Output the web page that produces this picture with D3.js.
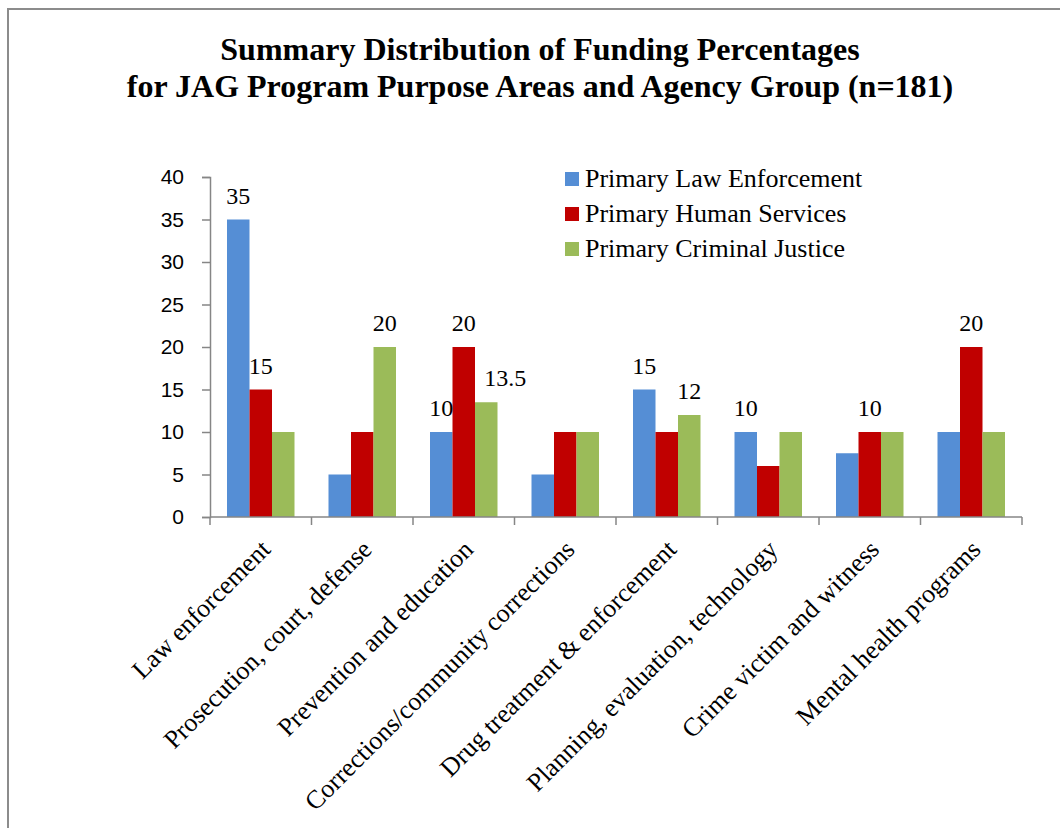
<!DOCTYPE html>
<html>
<head>
<meta charset="utf-8">
<script src="https://cdn.jsdelivr.net/npm/d3@7"></script>
<style>
  body { margin: 0; background: #fff; }
  svg { display: block; }
</style>
</head>
<body>
<div id="chart"></div>
<script>
const categories = [
  "Law enforcement",
  "Prosecution, court, defense",
  "Prevention and education",
  "Corrections/community corrections",
  "Drug treatment & enforcement",
  "Planning, evaluation, technology",
  "Crime victim and witness",
  "Mental health programs"
];
const seriesNames = ["Primary Law Enforcement", "Primary Human Services", "Primary Criminal Justice"];
const lawEnforcement = [35, 5, 10, 5, 15, 10, 7.5, 10];
const humanServices = [15, 10, 20, 10, 10, 6, 10, 20];
const criminalJustice = [10, 20, 13.5, 10, 12, 10, 10, 10];
// which bars carry a value label, by series then category
const labelled = [
  [true, false, true, false, true, true, false, false],
  [true, false, true, false, false, false, true, true],
  [false, true, true, false, true, false, false, false]
];
const yTicks = [0, 5, 10, 15, 20, 25, 30, 35, 40];
const colors = ["#558ED5", "#C00000", "#9BBB59"];

const width = 1060, height = 828;
const margin = { left: 210, right: 38, top: 177, bottom: 311 };
const innerWidth = width - margin.left - margin.right;
const innerHeight = height - margin.top - margin.bottom;

const values = [lawEnforcement, humanServices, criminalJustice];
const data = categories.map((c, i) => ({
  cat: c,
  vals: seriesNames.map((s, j) => ({ series: s, j: j, v: values[j][i], lab: labelled[j][i] }))
}));

const serif = "Liberation Serif, Times New Roman, serif";

const svg = d3.select("#chart")
  .append("svg")
  .attr("width", width)
  .attr("height", height);

// frame
svg.append("rect")
  .attr("x", 8)
  .attr("y", 9)
  .attr("width", 1100)
  .attr("height", 900)
  .attr("fill", "none")
  .attr("stroke", "#8c8c8c")
  .attr("stroke-width", 2);

// title
const title = svg.append("text")
  .attr("text-anchor", "middle")
  .attr("font-family", serif)
  .attr("font-weight", "bold")
  .attr("font-size", 32);
title.append("tspan").attr("x", 540).attr("y", 60).text("Summary Distribution of Funding Percentages");
title.append("tspan").attr("x", 540).attr("y", 97).text("for JAG Program Purpose Areas and Agency Group (n=181)");

const chart = svg.append("g")
  .attr("transform", `translate(${margin.left}, ${margin.top})`);

// scales
const x0 = d3.scaleBand()
  .domain(categories)
  .range([0, innerWidth])
  .paddingInner(0.335)
  .paddingOuter(0.1675);

const x1 = d3.scaleBand()
  .domain(seriesNames)
  .range([0, x0.bandwidth()]);

const y = d3.scaleLinear()
  .domain([0, 40])
  .range([innerHeight, 0]);

// bars
const groups = chart.selectAll("g.group")
  .data(data)
  .enter()
  .append("g")
  .attr("class", "group")
  .attr("transform", d => `translate(${x0(d.cat)}, 0)`);

groups.selectAll("rect")
  .data(d => d.vals)
  .enter()
  .append("rect")
  .attr("x", d => x1(d.series))
  .attr("y", d => y(d.v))
  .attr("width", x1.bandwidth())
  .attr("height", d => innerHeight - y(d.v))
  .attr("fill", d => colors[d.j]);

// value labels
groups.selectAll("text")
  .data(d => d.vals.filter(v => v.lab))
  .enter()
  .append("text")
  .attr("x", d => x1(d.series) + x1.bandwidth() / 2 + (d.v === 13.5 ? 19 : 0))
  .attr("y", d => y(d.v) - 16)
  .attr("text-anchor", "middle")
  .attr("font-family", serif)
  .attr("font-size", 24)
  .text(d => d.v);

// y axis
const yAxis = chart.append("g")
  .call(d3.axisLeft(y).tickValues(yTicks).tickSize(8).tickPadding(18));
yAxis.select(".domain").attr("stroke", "#868686").attr("stroke-width", 1.5);
yAxis.selectAll(".tick line").attr("stroke", "#868686").attr("stroke-width", 1.5);
yAxis.selectAll(".tick text")
  .attr("font-family", "Liberation Sans, Arial, sans-serif")
  .attr("font-size", 21)
  .attr("fill", "#000");

// x axis
const xAxis = chart.append("g")
  .attr("transform", `translate(0, ${innerHeight})`);
xAxis.append("line")
  .attr("x1", 0).attr("x2", innerWidth)
  .attr("stroke", "#868686").attr("stroke-width", 1.5);
d3.range(categories.length + 1).forEach(i => {
  xAxis.append("line")
    .attr("x1", i * x0.step()).attr("x2", i * x0.step())
    .attr("y1", 0).attr("y2", 8)
    .attr("stroke", "#868686").attr("stroke-width", 1.5);
});

// x labels
xAxis.selectAll("text.cat")
  .data(categories)
  .enter()
  .append("text")
  .attr("class", "cat")
  .attr("text-anchor", "end")
  .attr("font-family", serif)
  .attr("font-size", 26)
  .attr("transform", d => `translate(${x0(d) + x0.bandwidth() / 2 + 11}, 34) rotate(-45)`)
  .text(d => d);

// legend
const legend = svg.append("g")
  .attr("transform", "translate(565, 187)");

seriesNames.forEach((s, i) => {
  const row = legend.append("g")
    .attr("transform", `translate(0, ${i * 35})`);

  row.append("rect")
    .attr("y", -15)
    .attr("width", 14)
    .attr("height", 14)
    .attr("fill", colors[i]);

  row.append("text")
    .attr("x", 20)
    .attr("y", 0)
    .attr("font-family", serif)
    .attr("font-size", 26)
    .text(s);
});
</script>
</body>
</html>
